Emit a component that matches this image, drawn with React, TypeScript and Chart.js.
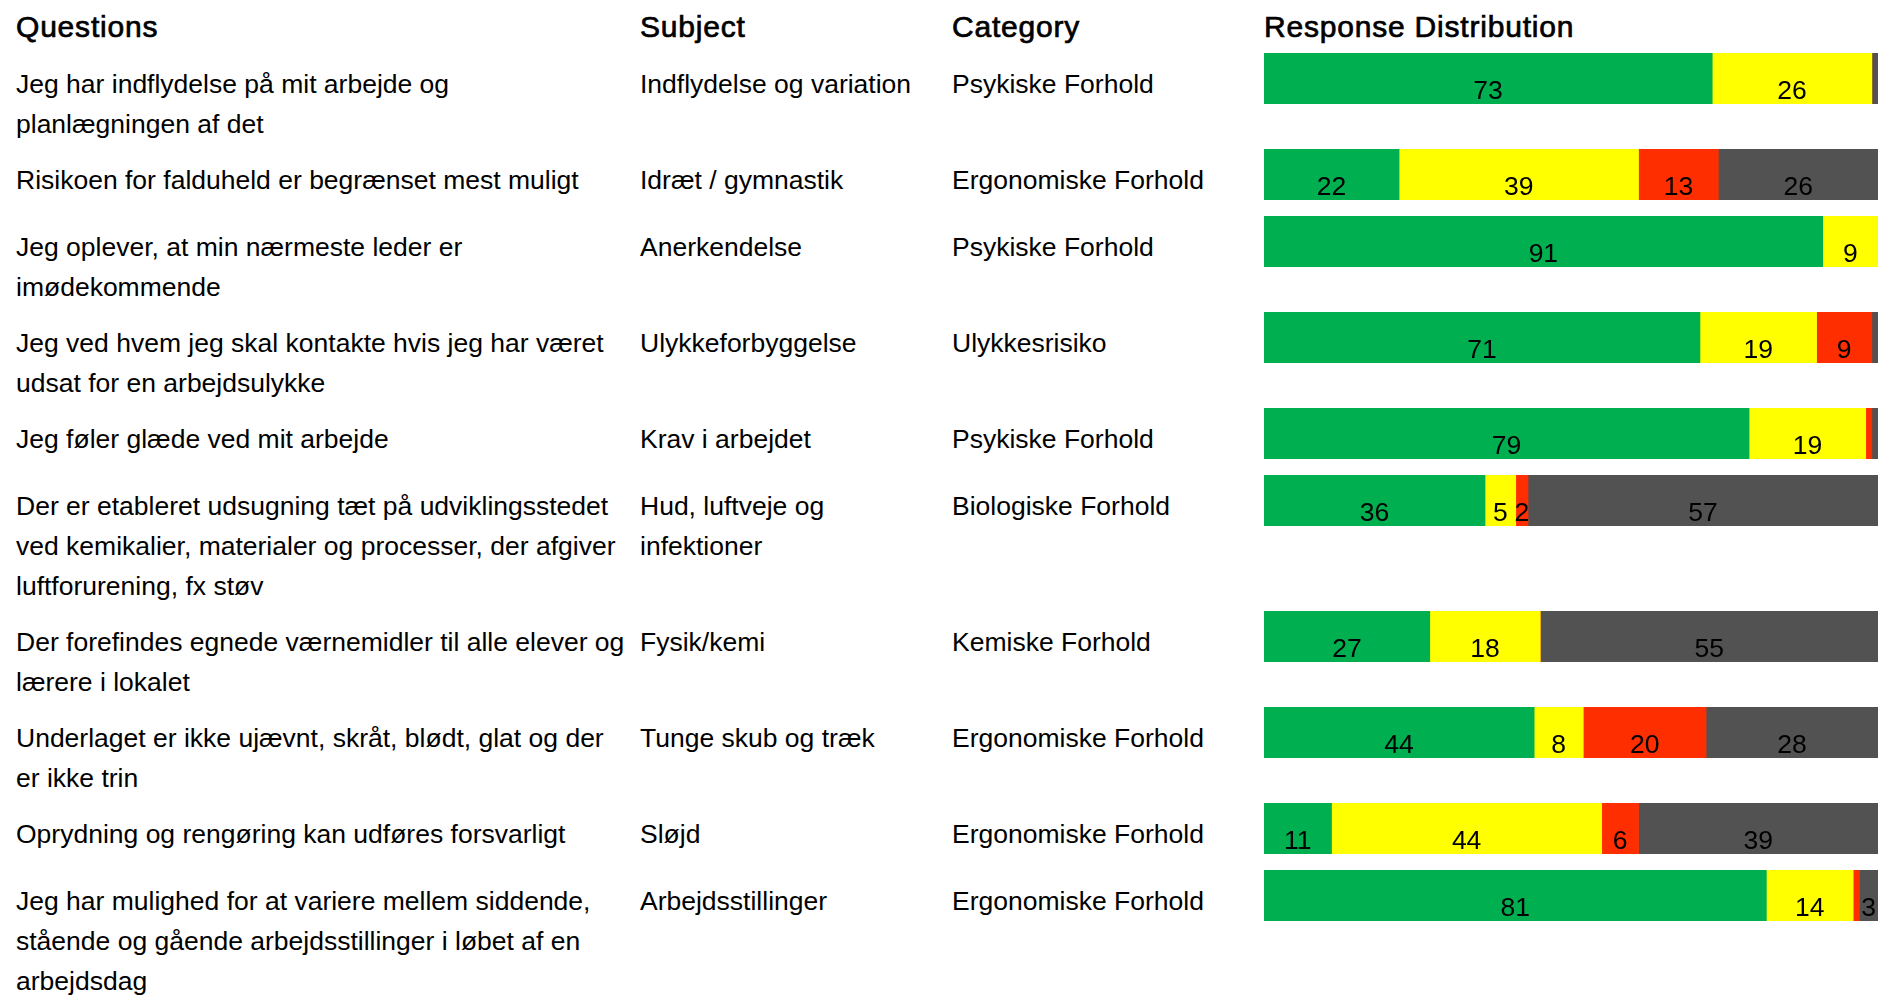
import React, { useEffect, useRef } from "react";
import { Chart, registerables } from "chart.js";

Chart.register(...registerables);

const headers = ["Questions", "Subject", "Category", "Response Distribution"];

const questions = [
  "Jeg har indflydelse på mit arbejde og\nplanlægningen af det",
  "Risikoen for falduheld er begrænset mest muligt",
  "Jeg oplever, at min nærmeste leder er\nimødekommende",
  "Jeg ved hvem jeg skal kontakte hvis jeg har været\nudsat for en arbejdsulykke",
  "Jeg føler glæde ved mit arbejde",
  "Der er etableret udsugning tæt på udviklingsstedet\nved kemikalier, materialer og processer, der afgiver\nluftforurening, fx støv",
  "Der forefindes egnede værnemidler til alle elever og\nlærere i lokalet",
  "Underlaget er ikke ujævnt, skråt, blødt, glat og der\ner ikke trin",
  "Oprydning og rengøring kan udføres forsvarligt",
  "Jeg har mulighed for at variere mellem siddende,\nstående og gående arbejdsstillinger i løbet af en\narbejdsdag",
];

const subjects = [
  "Indflydelse og variation",
  "Idræt / gymnastik",
  "Anerkendelse",
  "Ulykkeforbyggelse",
  "Krav i arbejdet",
  "Hud, luftveje og\ninfektioner",
  "Fysik/kemi",
  "Tunge skub og træk",
  "Sløjd",
  "Arbejdsstillinger",
];

const categories = [
  "Psykiske Forhold",
  "Ergonomiske Forhold",
  "Psykiske Forhold",
  "Ulykkesrisiko",
  "Psykiske Forhold",
  "Biologiske Forhold",
  "Kemiske Forhold",
  "Ergonomiske Forhold",
  "Ergonomiske Forhold",
  "Ergonomiske Forhold",
];

const positive = [73, 22, 91, 71, 79, 36, 27, 44, 11, 81];
const neutral = [26, 39, 9, 19, 19, 5, 18, 8, 44, 14];
const negative = [0, 13, 0, 9, 1, 2, 0, 20, 6, 1];
const unknown = [1, 26, 0, 1, 1, 57, 55, 28, 39, 3];

const seriesColors = ["#00b050", "#ffff00", "#ff2e00", "#525252"];

const FONT = '"Liberation Sans", Arial, Helvetica, sans-serif';
const BAR_W = 614;
const BAR_H = 51;

const labelPlugin = {
  id: "segLabels",
  afterDatasetsDraw(chart: any) {
    const ctx = chart.ctx;
    ctx.save();
    ctx.font = `26.5px ${FONT}`;
    ctx.fillStyle = "#000";
    ctx.textAlign = "center";
    ctx.textBaseline = "alphabetic";
    chart.data.datasets.forEach((ds: any, di: number) => {
      const meta = chart.getDatasetMeta(di);
      meta.data.forEach((el: any, i: number) => {
        const v = ds.data[i];
        if (v < 2) return;
        const p = el.getProps(["x", "y", "base", "height"], true);
        const cx = (p.x + p.base) / 2;
        const bottom = p.y + p.height / 2;
        ctx.fillText(String(v), cx, bottom - 5);
      });
    });
    ctx.restore();
  },
};

function BarRow({ idx }: { idx: number }) {
  const ref = useRef<HTMLCanvasElement | null>(null);
  useEffect(() => {
    if (!ref.current) return;
    const vals = [positive[idx], neutral[idx], negative[idx], unknown[idx]];
    const total = vals.reduce((a, b) => a + b, 0);
    const chart = new Chart(ref.current, {
      type: "bar",
      data: {
        labels: [""],
        datasets: vals.map((v, k) => ({
          data: [v],
          backgroundColor: seriesColors[k],
          borderWidth: 0,
          barPercentage: 1,
          categoryPercentage: 1,
        })),
      },
      options: {
        indexAxis: "y",
        animation: false,
        responsive: false,
        maintainAspectRatio: false,
        devicePixelRatio: 1,
        layout: { padding: 0 },
        plugins: { legend: { display: false }, tooltip: { enabled: false } },
        events: [],
        scales: {
          x: { stacked: true, display: false, min: 0, max: total, grid: { display: false } },
          y: { stacked: true, display: false, grid: { display: false } },
        },
      },
      plugins: [labelPlugin],
    } as any);
    return () => chart.destroy();
  }, [idx]);
  return (
    <canvas
      ref={ref}
      width={BAR_W}
      height={BAR_H}
      style={{ display: "block", width: BAR_W, height: BAR_H }}
    />
  );
}

const COLS = "624px 312px 312px 624px";

export default function App() {
  const headStyle: React.CSSProperties = {
    fontFamily: FONT,
    fontSize: 30,
    fontWeight: 400,
    letterSpacing: "0.8px",
    WebkitTextStroke: "0.7px #000",
    paddingLeft: 8,
    lineHeight: "33px",
    color: "#000",
  };
  const cellStyle: React.CSSProperties = {
    fontFamily: FONT,
    fontSize: 26.5,
    lineHeight: "39.75px",
    whiteSpace: "pre",
    paddingLeft: 8,
    paddingTop: 12,
    paddingBottom: 4.5,
    position: "relative",
    top: 8.4,
    color: "#000",
  };
  return (
    <div style={{ width: 1872, background: "#fff" }}>
      <div
        style={{
          display: "grid",
          gridTemplateColumns: COLS,
          paddingTop: 1.5,
          height: 37,
          boxSizing: "border-box",
        }}
      >
        {headers.map((h) => (
          <div key={h} style={headStyle}>
            {h}
          </div>
        ))}
      </div>
      {questions.map((q, i) => (
        <div
          key={i}
          style={{ display: "grid", gridTemplateColumns: COLS, alignItems: "start" }}
        >
          <div style={cellStyle}>{q}</div>
          <div style={cellStyle}>{subjects[i]}</div>
          <div style={cellStyle}>{categories[i]}</div>
          <div style={{ paddingLeft: 8, paddingTop: 8, paddingBottom: 8 }}>
            <BarRow idx={i} />
          </div>
        </div>
      ))}
    </div>
  );
}
